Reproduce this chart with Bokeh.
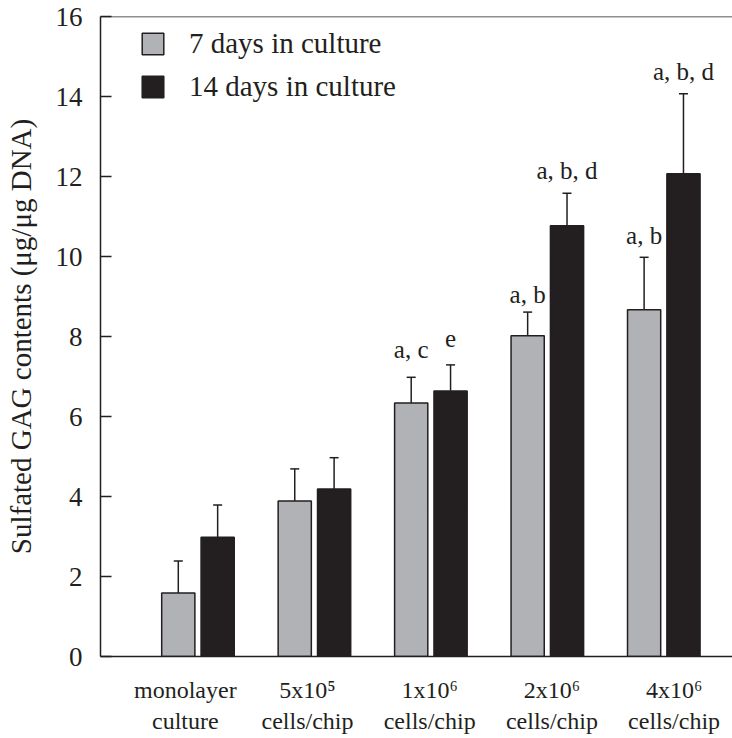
from bokeh.plotting import figure
from bokeh.models import (Range1d, FixedTicker, ColumnDataSource, Whisker, TeeHead,
                          LabelSet, Span, Legend, LegendItem)
from bokeh.transform import dodge
from bokeh.embed import file_html
from bokeh.resources import INLINE

# ---------------- data ----------------
categories = ["monolayer\nculture", "5x10\u2075\ncells/chip", "1x10\u2076\ncells/chip",
              "2x10\u2076\ncells/chip", "4x10\u2076\ncells/chip"]
positions = [1, 2, 3, 4, 5]
series_names = ["7 days in culture", "14 days in culture"]
day7_mean = [1.59, 3.89, 6.34, 8.02, 8.67]
day7_upper = [2.39, 4.69, 6.98, 8.61, 9.98]
day14_mean = [2.98, 4.19, 6.64, 10.77, 12.07]
day14_upper = [3.79, 4.97, 7.29, 11.58, 14.07]
y_ticks = [0, 2, 4, 6, 8, 10, 12, 14, 16]
y_label = "Sulfated GAG contents (\u03bcg/\u03bcg DNA)"

sig7_pos = [3, 4, 5]
sig7_text = ["a, c", "a, b", "a, b"]
sig7_y = [7.47, 8.85, 10.32]
sig14_pos = [3, 4, 5]
sig14_text = ["e", "a, b, d", "a, b, d"]
sig14_y = [7.73, 11.95, 14.42]

# ---------------- style ----------------
FONT = "Liberation Serif"
INK = "#231f20"
GRAY = "#b1b2b6"
BAR_W = 0.285
OFF = 0.169

p = figure(width=732, height=738, x_range=Range1d(0.163, 5.59), y_range=Range1d(0, 16),
           output_backend="svg", toolbar_location=None,
           min_border_left=100, min_border_right=0, min_border_top=16, min_border_bottom=82,
           outline_line_color=None, background_fill_color="white", border_fill_color="white")
p.xgrid.visible = False
p.ygrid.visible = False
# the category labels in the original are spread slightly wider than the bar groups
p.extra_x_ranges = {"labels": Range1d(0.306, 5.478)}

src = ColumnDataSource(dict(x=positions, m7=day7_mean, u7=day7_upper,
                            m14=day14_mean, u14=day14_upper))

r7 = p.vbar(x=dodge("x", -OFF), top="m7", width=BAR_W, source=src,
            fill_color=GRAY, line_color=INK, line_width=1.5)
r14 = p.vbar(x=dodge("x", OFF), top="m14", width=BAR_W, source=src,
             fill_color=INK, line_color=INK, line_width=1.5)

for mcol, ucol, off in (("m7", "u7", -OFF), ("m14", "u14", OFF)):
    w = Whisker(base=dodge("x", off), lower=mcol, upper=ucol, source=src,
                dimension="height", line_color=INK, line_width=1.5,
                lower_head=None, upper_head=TeeHead(size=9, line_color=INK, line_width=1.5))
    p.add_layout(w)

for pos, txt, yy, off in ((sig7_pos, sig7_text, sig7_y, -OFF), (sig14_pos, sig14_text, sig14_y, OFF)):
    s = ColumnDataSource(dict(x=pos, y=yy, t=txt))
    ls = LabelSet(x=dodge("x", off), y="y", text="t", source=s, text_align="center",
                  text_baseline="alphabetic", text_font=FONT, text_font_size="25px",
                  text_color=INK)
    p.add_layout(ls)

p.add_layout(Span(location=16, dimension="width", line_color=INK, line_width=1.5))

# axes
xa = p.xaxis[0]
xa.x_range_name = "labels"
xa.ticker = FixedTicker(ticks=positions)
xa.major_label_overrides = {pos: lab for pos, lab in zip(positions, categories)}
xa.major_tick_in = 0
xa.major_tick_out = 0
xa.minor_tick_line_color = None
xa.axis_line_color = INK
xa.axis_line_width = 1.5
xa.major_label_text_font = FONT
xa.major_label_text_font_size = "24px"
xa.major_label_text_color = INK
xa.major_label_standoff = 20

ya = p.yaxis[0]
ya.ticker = FixedTicker(ticks=y_ticks)
ya.major_tick_in = 11
ya.major_tick_out = 0
ya.minor_tick_line_color = None
ya.axis_line_color = INK
ya.axis_line_width = 1.5
ya.major_tick_line_color = INK
ya.major_tick_line_width = 1.5
ya.major_label_text_font = FONT
ya.major_label_text_font_size = "27px"
ya.major_label_text_color = INK
ya.major_label_standoff = 18
ya.axis_label = y_label
ya.axis_label_text_font = FONT
ya.axis_label_text_font_size = "29px"
ya.axis_label_text_font_style = "normal"
ya.axis_label_text_color = INK
ya.axis_label_standoff = 16

legend = Legend(items=[LegendItem(label=series_names[0], renderers=[r7]),
                       LegendItem(label=series_names[1], renderers=[r14])],
                location=(39, 553), orientation="vertical",
                glyph_width=27, glyph_height=27, label_standoff=23, spacing=10,
                padding=0, margin=0, border_line_color=None, background_fill_alpha=0,
                label_text_font=FONT, label_text_font_size="29px", label_text_color=INK)
p.add_layout(legend)

open("out.html", "w").write(file_html(p, INLINE))
